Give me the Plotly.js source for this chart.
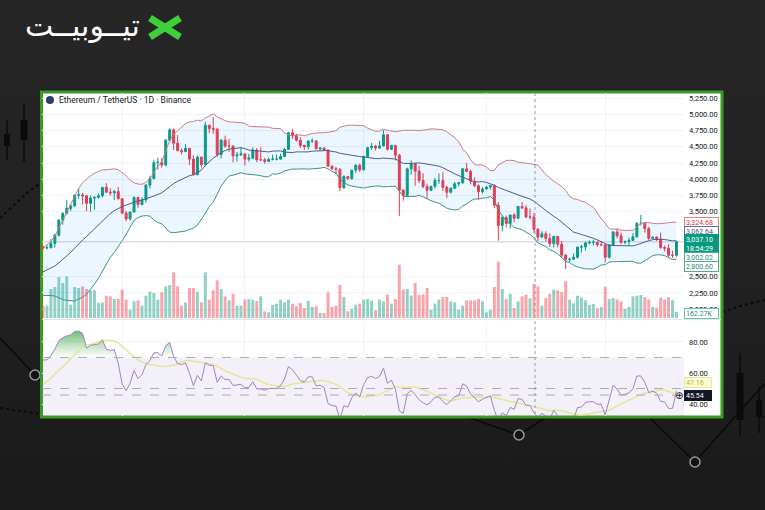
<!DOCTYPE html>
<html><head><meta charset="utf-8">
<script src="https://cdn.plot.ly/plotly-3.0.1.min.js"></script>
<style>
html,body{margin:0;padding:0;}
body{background:linear-gradient(180deg,#262626 0%,#212121 55%,#1a1a1a 100%);}
#chart{width:765px;height:510px;}
</style>
</head><body><div id="chart"></div><script>
// ---------- DATA ----------
const firstDate = '2025-07-12';
// closes before the first visible candle (used only for the indicators)
const warmupClose = [2640,2575,2525,2535,2545,2510,2525,2525,2410,2410,2230,2410,2445,2420,2415,2425,2435,2500,2485,2405,2570,2590,2515,2515,2570,2540,2615,2770,2950,2960];
const openP = [2960,2942,2945,3013,3140,3370,3475,3550,3590,3755,
3760,3745,3630,3710,3720,3745,3875,3800,3790,3810,
3700,3480,3390,3495,3720,3610,3685,3910,4010,4255,
4260,4220,4600,4760,4555,4440,4425,4475,4310,4070,
4340,4225,4830,4780,4770,4380,4600,4510,4510,4360,
4375,4390,4310,4325,4450,4300,4300,4275,4305,4310,
4310,4350,4460,4715,4670,4600,4520,4500,4590,4590,
4470,4480,4450,4200,4160,4150,3870,4040,4010,4140,
4215,4145,4350,4485,4510,4480,4515,4685,4460,4520,
4370,3830,3750,4160,4240,4125,3980,3890,3830,3890,
3980,3980,3875,3800,3860,3930,3945,4160,4120,3970,
3900,3810,3850,3880,3900,3600,3290,3410,3320,3450,
3400,3580,3560,3420,3420,3230,3110,3160,3090,3010,
3120,3000,2830,2765,2770,2800,2955,2960,3020,3030,
3030,2990,2990,2800,2990,3190,3130,3030,3040,3060,
3115,3320,3320,3240,3090,3110,3080,2950,2940,2830,2830];
const highP = [2975,2990,3080,3160,3385,3490,3680,3620,3765,3860,
3790,3755,3750,3740,3780,3880,3940,3860,3840,3880,
3710,3510,3500,3735,3730,3725,3925,4050,4300,4330,
4330,4620,4790,4780,4680,4475,4540,4480,4370,4360,
4350,4885,4840,4955,4790,4620,4670,4620,4520,4420,
4490,4400,4390,4490,4480,4490,4330,4330,4380,4380,
4390,4480,4730,4770,4700,4650,4530,4600,4630,4600,
4490,4490,4460,4220,4190,4170,4060,4050,4140,4230,
4240,4365,4500,4560,4530,4590,4755,4690,4530,4530,
4390,3850,4180,4290,4250,4210,4090,3930,3900,4020,
4090,4110,3900,3880,3960,3960,4170,4250,4150,4030,
3920,3880,3890,3920,3920,3650,3430,3440,3450,3480,
3590,3650,3600,3550,3480,3250,3200,3200,3170,3130,
3130,3050,2850,2790,2860,2960,2990,3040,3060,3070,
3040,3050,3000,3000,3200,3240,3180,3060,3100,3170,
3340,3450,3330,3270,3120,3120,3180,2980,3000,2900,3045];
const lowP = [2920,2930,2940,2950,3120,3300,3460,3510,3580,3700,
3610,3510,3500,3530,3700,3720,3800,3750,3680,3690,
3460,3355,3370,3490,3560,3600,3640,3860,4000,4150,
4180,4200,4590,4450,4430,4380,4420,4220,4060,4060,
4180,4210,4710,4700,4350,4320,4480,4420,4260,4270,
4360,4210,4270,4310,4260,4280,4240,4270,4290,4290,
4300,4340,4450,4620,4580,4480,4450,4460,4560,4460,
4440,4440,4200,4150,4080,3820,3850,3990,3990,4100,
4110,4135,4330,4450,4440,4470,4500,4440,4450,4290,
3435,3670,3730,4070,3900,3940,3860,3700,3830,3860,
3930,3820,3710,3780,3850,3890,3930,4110,3920,3880,
3690,3780,3840,3840,3560,3055,3200,3260,3240,3340,
3390,3540,3400,3380,3170,3050,3100,3040,2960,2950,
2950,2800,2620,2720,2760,2780,2870,2900,3000,2980,
2960,2980,2720,2780,2980,3090,3000,3000,2980,3050,
3100,3290,3180,3070,3080,3050,2930,2890,2800,2790,2810];
const closeP = [2942,2945,3013,3140,3370,3475,3550,3590,3755,3760,
3745,3630,3710,3720,3745,3875,3800,3790,3810,3700,
3480,3390,3495,3720,3610,3685,3910,4010,4255,4260,
4220,4600,4760,4555,4440,4425,4475,4310,4070,4340,
4225,4830,4780,4770,4380,4600,4510,4510,4360,4375,
4390,4310,4325,4450,4300,4300,4275,4305,4310,4310,
4350,4460,4715,4670,4600,4520,4500,4590,4590,4470,
4480,4450,4200,4160,4150,3870,4040,4010,4140,4215,
4145,4350,4485,4510,4480,4515,4685,4460,4520,4370,
3830,3750,4160,4240,4125,3980,3890,3830,3890,3980,
3980,3875,3800,3860,3930,3945,4160,4120,3970,3900,
3810,3850,3880,3900,3600,3290,3410,3320,3450,3400,
3580,3560,3420,3420,3230,3110,3160,3090,3010,3120,
3000,2830,2765,2770,2800,2955,2960,3020,3030,3030,
2990,2990,2800,2990,3190,3130,3030,3040,3060,3115,
3320,3320,3240,3090,3110,3080,2950,2940,2830,2830,3037];
const volumeK = [333,333,783,837,1107,945,1125,360,837,810,
855,783,747,747,405,423,603,585,513,513,
765,495,225,450,477,333,603,711,675,495,
693,855,891,1233,855,333,423,810,810,711,
423,1233,495,747,1017,783,585,477,657,333,
333,495,513,495,459,585,180,153,351,387,
495,423,495,387,315,405,270,468,297,315,
135,135,693,297,333,900,567,180,243,360,
387,495,513,477,207,495,450,630,387,513,
1440,765,783,603,945,621,630,810,225,387,
495,567,567,450,423,225,333,477,477,477,
513,450,153,225,837,1521,783,513,657,270,
450,585,630,531,927,855,333,540,657,765,
747,700,1000,500,400,600,550,480,350,380,
260,300,840,513,540,500,450,250,300,585,
600,620,560,500,300,280,550,500,560,480,162.27];
// price-scale labels left visible by the value tags
const priceTicks = [2000,2250,2500,3500,3750,4000,4250,4500,4750,5000,5250];
const rsiTicks = [40,60,80];
const titleText = 'Ethereum / TetherUS · 1D · Binance';
const lastPrice = 3037.10;
// right-edge value tags: text, centre y (px), bg, border, text colour
const priceTags = [
  ['3,324.68',222.5,'#ffffff','#e57f86','#d0343f'],
  ['3,062.64',232,'#ffffff','#5b6ea8','#3f4f86'],
  ['3,037.10<br>18:54:29',244.5,'#089981','#089981','#ffffff'],
  ['3,002.02',257.5,'#ffffff','#52a896','#2b8a76'],
  ['2,800.60',266,'#ffffff','#52a896','#2b8a76'],
  ['162.27K',313,'#ffffff','#6cc0b1','#2b8a76']
];
const rsiTags = [['47.16',382.5,'#fbfbd2','#e8ea9a','#b7b54a'],['45.54',395.5,'#131722','#131722','#ffffff']];
const logoText = 'تیــوبیــت';
// background decoration (pixel coordinates)
const decoCandles = [[7,120,160,134,146,6],[24,103,162,120,140,7],[740,353,437,373,420,7],[759,387,433,400,417,6]];
const decoLine1 = [[0,338],[35,375],[45,385]];
const decoLine2 = [[470,418],[519,435],[545,418]];
const decoLine3 = [[650,418],[695,462],[765,383]];
const decoCircles = [[35,375],[519,435],[695,462]];
const decoDots = [[[0,218],[14,205],[28,192],[42,182]],[[0,408],[20,411],[40,414]],[[722,312],[740,306],[765,300]]];

// ---------- HELPERS ----------
const W=765,H=510;
const px=x=>x/W, py=y=>1-y/H;
const N=closeP.length;
const t0=Date.parse(firstDate+'T00:00:00Z');
const dates=[];
for(let k=0;k<N;k++){dates.push(new Date(t0+k*864e5).toISOString().slice(0,10));}
const iso=t=>new Date(t).toISOString().slice(0,19).replace('T',' ');

// indicators from the closes
const allC=warmupClose.concat(closeP), W0=warmupClose.length;
const bbU=[],bbM=[],bbL=[];
for(let k=0;k<N;k++){const i=k+W0;const w=allC.slice(i-19,i+1);const m=w.reduce((a,b)=>a+b,0)/20;
 const sd=Math.sqrt(w.reduce((a,b)=>a+(b-m)*(b-m),0)/20);bbM.push(m);bbU.push(m+2*sd);bbL.push(m-2*sd);}
const rsiAll=[];let ag=0,al=0;
for(let i=1;i<allC.length;i++){const ch=allC[i]-allC[i-1];const g=Math.max(ch,0),l=Math.max(-ch,0);
 if(i<=14){ag+=g/14;al+=l/14;if(i===14)rsiAll[i]=100-100/(1+ag/al);}
 else{ag=(ag*13+g)/14;al=(al*13+l)/14;rsiAll[i]=100-100/(1+ag/al);}}
const rsi=[],rsiMa=[];
for(let k=0;k<N;k++){const i=k+W0;rsi.push(rsiAll[i]);let s=0;for(let j=i-13;j<=i;j++)s+=rsiAll[j];rsiMa.push(s/14);}
const ob=rsi.map(v=>Math.max(v,70));
const volCol=closeP.map((c,i)=>c>=openP[i]?'rgba(8,153,129,0.45)':'rgba(242,54,69,0.45)');

// ---------- TRACES ----------
const traces=[
 {type:'bar',x:dates,y:volumeK,xaxis:'x',yaxis:'y',marker:{color:volCol,line:{width:0}},width:0.75*864e5,hoverinfo:'skip'},
 {type:'scatter',mode:'lines',x:dates,y:bbU,xaxis:'x',yaxis:'y2',line:{color:'#cf7b83',width:1},hoverinfo:'skip'},
 {type:'scatter',mode:'lines',x:dates,y:bbL,xaxis:'x',yaxis:'y2',line:{color:'#3f9383',width:1},fill:'tonexty',fillcolor:'rgba(33,150,243,0.09)',hoverinfo:'skip'},
 {type:'scatter',mode:'lines',x:dates,y:bbM,xaxis:'x',yaxis:'y2',line:{color:'#4d5c8f',width:1},hoverinfo:'skip'},
 {type:'candlestick',x:dates,open:openP,high:highP,low:lowP,close:closeP,xaxis:'x',yaxis:'y2',
  increasing:{line:{color:'#089981',width:1},fillcolor:'#089981'},decreasing:{line:{color:'#f23645',width:1},fillcolor:'#f23645'},
  whiskerwidth:0,hoverinfo:'skip'},
 {type:'scatter',mode:'lines',x:dates,y:dates.map(()=>70),xaxis:'x',yaxis:'y3',line:{width:0,color:'rgba(0,0,0,0)'},hoverinfo:'skip'},
 {type:'scatter',mode:'lines',x:dates,y:ob,xaxis:'x',yaxis:'y3',line:{width:0,color:'rgba(0,0,0,0)'},fill:'tonexty',
  fillcolor:'rgba(76,175,80,0.35)',fillgradient:{type:'vertical',colorscale:[[0,'rgba(76,175,80,0)'],[1,'rgba(56,160,60,0.7)']]},hoverinfo:'skip'},
 {type:'scatter',mode:'lines',x:dates,y:rsiMa,xaxis:'x',yaxis:'y3',line:{color:'rgba(222,230,130,0.85)',width:1.5},hoverinfo:'skip'},
 {type:'scatter',mode:'lines',x:dates,y:rsi,xaxis:'x',yaxis:'y3',line:{color:'#a182c4',width:1},hoverinfo:'skip'}
];

// ---------- SHAPES ----------
const shapes=[];
const path=pts=>pts.map((p,i)=>(i?'L':'M')+px(p[0]).toFixed(5)+','+py(p[1]).toFixed(5)).join(' ');
decoCandles.forEach(c=>{
 shapes.push({type:'line',xref:'paper',yref:'paper',x0:px(c[0]),x1:px(c[0]),y0:py(c[1]),y1:py(c[2]),line:{color:'#0b0b0b',width:1.5},layer:'below'});
 shapes.push({type:'rect',xref:'paper',yref:'paper',x0:px(c[0]-c[5]/2),x1:px(c[0]+c[5]/2),y0:py(c[3]),y1:py(c[4]),fillcolor:'#0b0b0b',line:{width:0},layer:'below'});
});
[decoLine1,decoLine2,decoLine3].forEach(l=>shapes.push({type:'path',xref:'paper',yref:'paper',path:path(l),line:{color:'#0a0a0a',width:1.5},layer:'below'}));
decoDots.forEach(l=>shapes.push({type:'path',xref:'paper',yref:'paper',path:path(l),line:{color:'#0a0a0a',width:2,dash:'dot'},layer:'below'}));
decoCircles.forEach(c=>shapes.push({type:'circle',xref:'paper',yref:'paper',x0:px(c[0]-5),x1:px(c[0]+5),y0:py(c[1]-5),y1:py(c[1]+5),fillcolor:'#111',line:{color:'#9a9a9a',width:1.5},layer:'below'}));
// panel
shapes.push({type:'rect',xref:'paper',yref:'paper',x0:px(41.5),x1:px(722),y0:py(92),y1:py(417),fillcolor:'#ffffff',line:{color:'#3a9b22',width:3},layer:'below'});
// logo icon
shapes.push({type:'line',xref:'paper',yref:'paper',x0:px(150),y0:py(18),x1:px(180),y1:py(37),line:{color:'#3fcf3a',width:7}});
shapes.push({type:'line',xref:'paper',yref:'paper',x0:px(180),y0:py(18),x1:px(150),y1:py(37),line:{color:'#3fcf3a',width:7}});
// eth icon
shapes.push({type:'circle',xref:'paper',yref:'paper',x0:px(46),x1:px(54),y0:py(96),y1:py(104),fillcolor:'#2c3d6e',line:{width:0}});
// RSI band and levels
shapes.push({type:'rect',xref:'paper',yref:'y3',x0:px(42),x1:px(684),y0:32.3,y1:70,fillcolor:'rgba(126,87,194,0.09)',line:{width:0},layer:'below'});
[70,50,45.8].forEach(v=>shapes.push({type:'line',xref:'paper',yref:'y3',x0:px(42),x1:px(684),y0:v,y1:v,line:{color:'#a9acb5',width:1,dash:'dash'}}));
// last price line, pane separator, crosshair
shapes.push({type:'line',xref:'paper',yref:'y2',x0:px(42),x1:px(684),y0:lastPrice,y1:lastPrice,line:{color:'#c9ccd4',width:1},layer:'below'});
shapes.push({type:'line',xref:'paper',yref:'paper',x0:px(42),x1:px(721),y0:py(319.5),y1:py(319.5),line:{color:'#e3e6ec',width:1}});
shapes.push({type:'line',xref:'paper',yref:'paper',x0:px(535),x1:px(535),y0:py(93),y1:py(416),line:{color:'#9598a1',width:1,dash:'dot'}});

// ---------- ANNOTATIONS ----------
const ann=[];
ann.push({xref:'paper',yref:'paper',x:px(57),y:py(100.5),xanchor:'left',yanchor:'middle',text:titleText,showarrow:false,font:{size:8.5,color:'#131722',family:'Roboto, sans-serif'}});
ann.push({xref:'paper',yref:'paper',x:px(82),y:py(25),xanchor:'center',yanchor:'middle',text:logoText,showarrow:false,font:{size:30,color:'#ffffff',family:'DejaVu Sans, sans-serif'}});
priceTags.forEach(t=>{const two=t[0].indexOf('<br>')>0;
 ann.push({xref:'paper',yref:'paper',x:px(684),y:py(t[1]),xanchor:'left',yanchor:'middle',text:t[0],showarrow:false,align:'left',
  bgcolor:t[2],bordercolor:t[3],borderwidth:1,borderpad:1,width:31,height:two?17:7,font:{size:7,color:t[4],family:'Roboto, sans-serif'}});});
rsiTags.forEach((t,i)=>{
 ann.push({xref:'paper',yref:'paper',x:px(684),y:py(t[1]),xanchor:'left',yanchor:'middle',text:t[0],showarrow:false,align:'left',
  bgcolor:t[2],bordercolor:t[3],borderwidth:1,borderpad:1,width:24,height:7,font:{size:7,color:t[4],family:'Roboto, sans-serif'}});});
ann.push({xref:'paper',yref:'paper',x:px(679),y:py(395.5),xanchor:'center',yanchor:'middle',text:'⊕',showarrow:false,font:{size:10,color:'#131722',family:'DejaVu Sans'}});

// ---------- LAYOUT ----------
const layout={
 width:W,height:H,margin:{l:0,r:0,t:0,b:0},paper_bgcolor:'rgba(0,0,0,0)',plot_bgcolor:'rgba(0,0,0,0)',showlegend:false,
 font:{family:'Roboto, sans-serif',color:'#131722'},
 xaxis:{type:'date',domain:[px(42),px(684)],range:[iso(t0-0.25*864e5),iso(t0+161.9*864e5)],showticklabels:false,ticks:'',
   showgrid:true,gridcolor:'#f0f2f6',dtick:'M1',tick0:'2025-08-01',zeroline:false,showline:false,rangeslider:{visible:false},anchor:'y3',fixedrange:true},
 yaxis:{domain:[py(318),py(93)],range:[0,6075],visible:false,fixedrange:true},
 yaxis2:{overlaying:'y',side:'right',anchor:'x',range:[1865,5327],tickvals:priceTicks,tickformat:',.2f',tickfont:{size:7.5,color:'#131722'},
   showgrid:true,gridcolor:'#f0f2f6',zeroline:false,ticks:'',ticklabelstandoff:4,fixedrange:true},
 yaxis3:{domain:[py(416),py(321)],anchor:'x',side:'right',range:[32.3,93.5],tickvals:rsiTicks,tickformat:'.2f',tickfont:{size:7.5,color:'#131722'},
   showgrid:true,gridcolor:'#f0f2f6',zeroline:false,ticks:'',ticklabelstandoff:4,fixedrange:true},
 shapes:shapes,annotations:ann
};
Plotly.newPlot('chart',traces,layout,{staticPlot:true,displayModeBar:false});
</script></body></html>
